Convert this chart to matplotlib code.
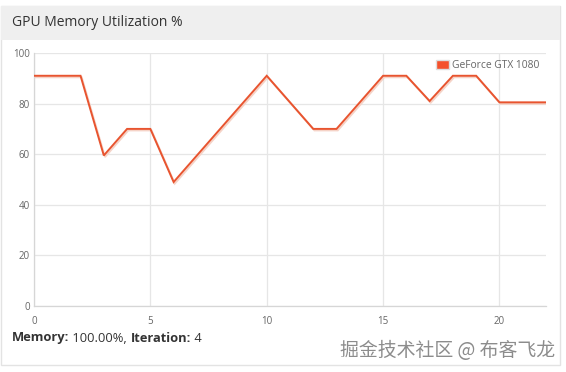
import matplotlib
matplotlib.use("Agg")
import matplotlib.pyplot as plt
from matplotlib.patches import Patch, Rectangle

# data
iterations = list(range(23))
memory_pct = [91, 91, 91, 59.5, 70, 70, 49, 59.5, 70, 80.5, 91, 80.5,
              70, 70, 80.5, 91, 91, 81, 91, 91, 80.5, 80.5, 80.5]
x_ticks = [0, 5, 10, 15, 20]
y_ticks = [0, 20, 40, 60, 80, 100]
series_name = "GeForce GTX 1080"

W, H = 566, 372
fig = plt.figure(figsize=(W / 100, H / 100), dpi=100)
fig.patch.set_facecolor("white")

def fx(px):
    return px / W

def fy(py):
    return 1 - py / H

# panel frame + grey header (kept behind the axes)
fig.patches.append(Rectangle((fx(1), fy(365)), fx(559), 359 / H, transform=fig.transFigure,
                             facecolor="white", edgecolor="#e3e3e3", lw=1, zorder=-2))
fig.patches.append(Rectangle((fx(1), fy(40)), fx(559), 34 / H, transform=fig.transFigure,
                             facecolor="#efefef", edgecolor="none", zorder=-1))

fig.text(fx(12), fy(23), "GPU Memory Utilization %", fontsize=10, family="Open Sans",
         color="#333333", va="center", ha="left")

ax = fig.add_axes([fx(34), fy(306), fx(546 - 34), (306 - 53) / H])
ax.set_facecolor("none")

# faint shadow under the line
ax.plot([i + 0.05 for i in iterations], [v - 0.6 for v in memory_pct],
        color="#f5d3c7", lw=1.4, zorder=2, solid_joinstyle="miter")
ax.plot(iterations, memory_pct, color="#e8542f", lw=1.4, zorder=3, solid_joinstyle="miter")

ax.set_xlim(0, 22)
ax.set_ylim(0, 100)
ax.set_xticks(x_ticks)
ax.set_yticks(y_ticks)
ax.grid(True, color="#e6e6e6", lw=0.9)
ax.set_axisbelow(True)
for side in ["top", "right"]:
    ax.spines[side].set_visible(False)
for side in ["left", "bottom"]:
    ax.spines[side].set_color("#d6d6d6")
    ax.spines[side].set_linewidth(0.9)
ax.tick_params(axis="both", length=0, labelsize=7, labelcolor="#666666")
ax.tick_params(axis="x", pad=7)
ax.tick_params(axis="y", pad=3)
for lbl in ax.get_xticklabels() + ax.get_yticklabels():
    lbl.set_family("Open Sans")

legend_elements = [Patch(facecolor="#f4512c", edgecolor="#dddddd", label=series_name)]
leg = ax.legend(handles=legend_elements, loc="upper left", frameon=False,
                bbox_to_anchor=(fx(436), fy(60)), bbox_transform=fig.transFigure,
                borderpad=0, borderaxespad=0, handlelength=1.3, handleheight=1.0,
                handletextpad=0.3, prop={"family": "Open Sans", "size": 7.4})
for t in leg.get_texts():
    t.set_color("#666666")

# status line under the chart
t1 = fig.text(fx(12), fy(338), "Memory:", fontsize=9.3, weight="bold", family="Open Sans",
              color="#333333", va="center")
t2 = ax.annotate(" 100.00%, ", xy=(1, 0.5), xycoords=t1, va="center", ha="left",
                 fontsize=9.3, family="Open Sans", color="#333333", annotation_clip=False)
t3 = ax.annotate("Iteration:", xy=(1, 0.5), xycoords=t2, va="center", ha="left",
                 fontsize=9.3, weight="bold", family="Open Sans", color="#333333",
                 annotation_clip=False)
ax.annotate(" 4", xy=(1, 0.5), xycoords=t3, va="center", ha="left",
            fontsize=9.3, family="Open Sans", color="#333333", annotation_clip=False)

# watermark
fig.text(fx(555), fy(350), "掘金技术社区 @ 布客飞龙", fontsize=13.6,
         family=["Noto Sans CJK SC", "DejaVu Sans"], color="#8c8c8c",
         ha="right", va="center")

fig.savefig("out.png", dpi=100)
plt.close(fig)
